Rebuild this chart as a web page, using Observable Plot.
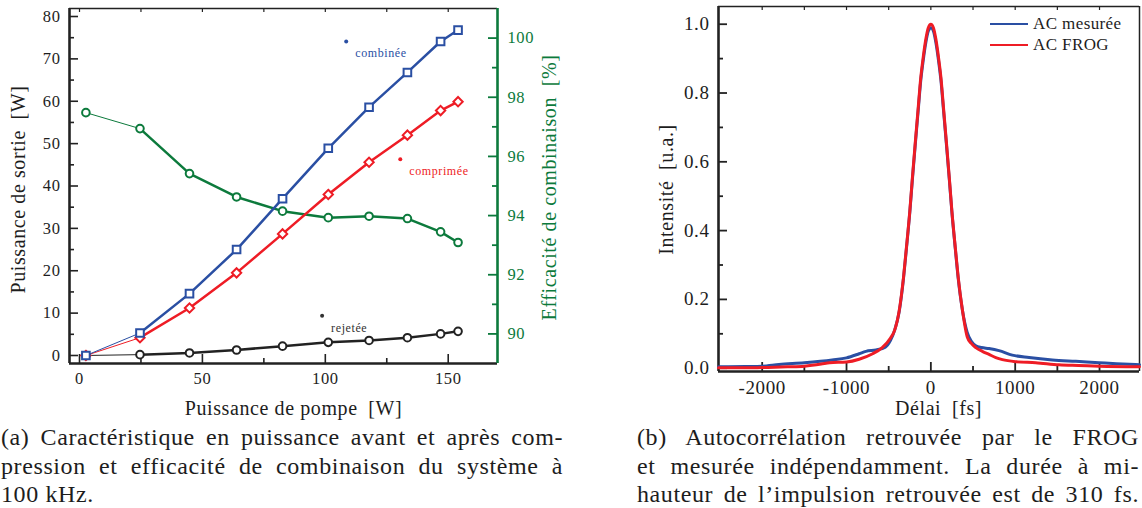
<!DOCTYPE html>
<html>
<head>
<meta charset="utf-8">
<script src="https://cdn.jsdelivr.net/npm/d3@7"></script>
<script src="https://cdn.jsdelivr.net/npm/@observablehq/plot@0.6"></script>
<style>
  body { margin: 0; background: #fff; }
  #root { position: relative; width: 1142px; height: 508px; overflow: hidden;
          font-family: "Liberation Serif", "DejaVu Serif", serif; color: #1d1d1d; }
  .plot { position: absolute; top: 0; }
  .plot svg text { font-family: "Liberation Serif", "DejaVu Serif", serif; }
  .cap { position: absolute; top: 423px; font-size: 24px; line-height: 28.5px; letter-spacing: 0.6px; }
  .cap .j { text-align: justify; text-align-last: justify; }
  .legend { position: absolute; left: 990px; top: 13px; font-size: 17px; letter-spacing: 0.4px; line-height: 21px; }
  .legend .row { display: flex; align-items: center; height: 21px; }
  .legend .sw { width: 38px; height: 2px; margin-right: 5px; }
</style>
</head>
<body>
<div id="root">
  <div id="left" class="plot" style="left:0"></div>
  <div id="right" class="plot" style="left:600px"></div>
  <div class="legend" id="legend"></div>
  <div class="cap" style="left:1px;width:562px">
    <div class="j">(a) Caractéristique en puissance avant et après com-</div>
    <div class="j">pression et efficacité de combinaison du système à</div>
    <div>100 kHz.</div>
  </div>
  <div class="cap" style="left:637px;width:502px">
    <div class="j">(b) Autocorrélation retrouvée par le FROG</div>
    <div class="j">et mesurée indépendamment. La durée à mi-</div>
    <div class="j">hauteur de l’impulsion retrouvée est de 310 fs.</div>
  </div>
</div>
<script>
// ---------- Panel (a) data ----------
const pump       = [2.6, 24.6, 44.75, 63.9, 82.6, 101.2, 117.8, 133.4, 146.9, 154.0];
const combinee   = [0, 5.3, 14.6, 25.0, 37.0, 48.9, 58.6, 66.8, 74.1, 76.8];
const comprimee  = [0, 4.2, 11.2, 19.5, 28.7, 38.0, 45.6, 52.0, 57.8, 59.9];
const rejetee    = [0, 0.2, 0.6, 1.3, 2.2, 3.1, 3.55, 4.2, 5.1, 5.7];
const efficacite = [97.48, 96.94, 95.42, 94.63, 94.15, 93.93, 93.98, 93.9, 93.45, 93.09];

const annotText  = ["combinée", "comprimée", "rejetée"];
const annotX     = [108.5, 130.5, 98.7];
const annotY     = [74.1, 46.3, 9.4];

const xTicksA    = [0, 50, 100, 150];
const xMinorA    = [25, 75, 125];
const yTicksA    = [0, 10, 20, 30, 40, 50, 60, 70, 80];
const yMinorA    = [5, 15, 25, 35, 45, 55, 65, 75];
const effTicks   = [90, 92, 94, 96, 98, 100];
const effMinor   = [91, 93, 95, 97, 99];

// ---------- Panel (b) data ----------
const delaiFrog = [-2518, -2200, -2000, -1700, -1500, -1300, -1200, -1000, -850, -690, -580, -480, -430, -375, -324, -290, -249, -220, -186, -150, -119, -90, -60, -30, 0,
                   30, 60, 90, 119, 150, 186, 220, 249, 290, 324, 375, 433, 480, 533, 610, 690, 770, 848, 1006, 1243, 1520, 1750, 2000, 2474];
const acFrog    = [0.001, 0.001, 0.002, 0.004, 0.006, 0.012, 0.016, 0.018, 0.026, 0.042, 0.059, 0.087, 0.11, 0.168, 0.265, 0.35, 0.458, 0.55, 0.652, 0.757, 0.846, 0.905, 0.956, 0.99, 1.0,
                   0.99, 0.956, 0.905, 0.846, 0.757, 0.652, 0.55, 0.458, 0.35, 0.265, 0.168, 0.09, 0.072, 0.060, 0.049, 0.040, 0.031, 0.025, 0.019, 0.016, 0.010, 0.008, 0.006, 0.004];
const delaiMes  = [-2518, -2200, -2000, -1800, -1500, -1170, -1000, -850, -770, -650, -540, -480, -430, -375, -324, -290, -249, -220, -186, -150, -119, -90, -60, -30, 0,
                   30, 60, 90, 119, 150, 186, 220, 249, 290, 324, 375, 430, 480, 533, 600, 690, 808, 966, 1164, 1441, 1718, 1994, 2200, 2474];
const acMes     = [0.004, 0.005, 0.006, 0.011, 0.016, 0.024, 0.030, 0.042, 0.049, 0.053, 0.061, 0.080, 0.11, 0.165, 0.262, 0.347, 0.455, 0.545, 0.646, 0.75, 0.838, 0.896, 0.946, 0.98, 0.99,
                   0.98, 0.946, 0.896, 0.838, 0.75, 0.646, 0.545, 0.455, 0.347, 0.262, 0.168, 0.105, 0.078, 0.065, 0.060, 0.057, 0.051, 0.038, 0.031, 0.024, 0.020, 0.016, 0.013, 0.010];

const xTicksB = [-2000, -1000, 0, 1000, 2000];
const xMinorB = [-1500, -500, 500, 1500];
const xTopB   = [-2000, -1500, -1000, -500, 0, 500, 1000, 1500, 2000];
const yTicksB = [0, 0.2, 0.4, 0.6, 0.8, 1.0];
const yMinorB = [0.1, 0.3, 0.5, 0.7, 0.9];

const legendLabels = ["AC mesurée", "AC FROG"];

// ---------- Colours ----------
const BLUE = "#2a4fa3", RED = "#ee1c25", GREEN = "#0c7a3c", BLACK = "#222222", INK = "#1d1d1d";
const FONT = "'Liberation Serif', 'DejaVu Serif', serif";

// ---------- Panel (a) ----------
const xDomA = [-4.07, 170.05], yDomA = [-1.89, 81.89], effDom = [89, 101];
const effToY = e => yDomA[0] + (e - effDom[0]) / (effDom[1] - effDom[0]) * (yDomA[1] - yDomA[0]);
const yToEff = y => effDom[0] + (y - yDomA[0]) / (yDomA[1] - yDomA[0]) * (effDom[1] - effDom[0]);

const rows = pump.map((p, i) => ({p, comb: combinee[i], comp: comprimee[i], rej: rejetee[i], eff: effToY(efficacite[i])}));
const annots = annotText.map((t, i) => ({t, x: annotX[i], y: annotY[i], c: [BLUE, RED, "#333"][i]}));

const WA = 600, HA = 420, mL = 69, mT = 8, mR = 103, mB = 57;
const fwA = WA - mL - mR, fhA = HA - mT - mB;

function series(key, color, symbol, r) {
  return [
    Plot.line(rows.slice(0, 2), {x: "p", y: key, stroke: color, strokeWidth: 1}),
    Plot.line(rows.slice(1), {x: "p", y: key, stroke: color, strokeWidth: 2.5}),
    Plot.dot(rows, {x: "p", y: key, stroke: color, fill: "white", strokeWidth: 2, symbol, r})
  ];
}

const plotA = Plot.plot({
  width: WA, height: HA, marginLeft: mL, marginTop: mT, marginRight: mR, marginBottom: mB,
  style: {fontFamily: FONT, color: INK, background: "transparent"},
  x: {domain: xDomA}, y: {domain: yDomA},
  marks: [
    Plot.ruleY(yTicksA, {y: d => d, insetRight: fwA - 9, strokeWidth: 1.6, stroke: BLACK}),
    Plot.ruleY(yMinorA, {y: d => d, insetRight: fwA - 5, strokeWidth: 1.6, stroke: BLACK}),
    Plot.ruleX(xTicksA, {x: d => d, insetTop: fhA - 9, strokeWidth: 1.6, stroke: BLACK}),
    Plot.ruleX(xMinorA, {x: d => d, insetTop: fhA - 5, strokeWidth: 1.6, stroke: BLACK}),
    Plot.ruleX(xTicksA.concat(xMinorA), {x: d => d, insetBottom: fhA - 4, strokeWidth: 1.2, stroke: BLACK}),
    Plot.ruleY(effTicks.map(effToY), {y: d => d, insetLeft: fwA - 9, strokeWidth: 1.8, stroke: GREEN}),
    Plot.ruleY(effMinor.map(effToY), {y: d => d, insetLeft: fwA - 5, strokeWidth: 1.8, stroke: GREEN}),
    Plot.ruleY([yDomA[1]], {strokeWidth: 1.5, stroke: BLACK}),
    Plot.ruleX([xDomA[0]], {strokeWidth: 2.6, stroke: BLACK}),
    Plot.ruleY([yDomA[0]], {strokeWidth: 2.6, stroke: BLACK}),
    Plot.ruleX([xDomA[1]], {strokeWidth: 2.6, stroke: GREEN}),
    Plot.axisY({ticks: yTicksA, tickSize: 0, tickPadding: 9, fontSize: 16.5, label: null}),
    Plot.axisX({ticks: xTicksA, tickSize: 0, tickPadding: 9, fontSize: 16.5, label: null}),
    Plot.axisY({anchor: "right", ticks: effTicks.map(effToY), tickFormat: d => String(Math.round(yToEff(d))),
                tickSize: 0, tickPadding: 10, fontSize: 16.5, label: null, fill: GREEN, color: GREEN}),
    ...series("eff", GREEN, "circle", 3.8),
    ...series("rej", BLACK, "circle", 3.8),
    ...series("comp", RED, "diamond2", 4.2),
    ...series("comb", BLUE, "square", 4.3),
    Plot.dot(annots, {x: "x", y: "y", fill: "c", r: 2}),
    Plot.text(annots, {x: "x", y: "y", text: "t", fill: "c", dx: 9, dy: 12, textAnchor: "start", fontSize: 12}),
    Plot.text(["Puissance de sortie\u2002[W]"], {frameAnchor: "left", textAnchor: "middle", lineAnchor: "middle", dx: -51, dy: 3.5, rotate: -90, fontSize: 20, fill: INK}),
    Plot.text(["Puissance de pompe\u2002[W]"], {frameAnchor: "bottom", textAnchor: "middle", lineAnchor: "middle", dx: 10, dy: 45, fontSize: 20, fill: INK}),
    Plot.text(["Efficacité de combinaison\u2002[%]"], {frameAnchor: "right", textAnchor: "middle", lineAnchor: "middle", dx: 52, dy: 1.5, rotate: -90, fontSize: 20, fill: GREEN})
  ]
});
plotA.querySelectorAll("text").forEach(t => { t.style.letterSpacing = "0.6px"; t.style.fontFamily = FONT; });
document.getElementById("left").appendChild(plotA);

// ---------- Panel (b) ----------
const xDomB = [-2518, 2474], yDomB = [-0.0096, 1.0515];
const WB = 542, HB = 420, bL = 118, bT = 6, bR = 3, bB = 49;
const fwB = WB - bL - bR, fhB = HB - bT - bB;
const frog = delaiFrog.map((d, i) => ({d, v: acFrog[i]}));
const mes = delaiMes.map((d, i) => ({d, v: acMes[i]}));

const plotB = Plot.plot({
  width: WB, height: HB, marginLeft: bL, marginTop: bT, marginRight: bR, marginBottom: bB,
  style: {fontFamily: FONT, color: INK, background: "transparent"},
  x: {domain: xDomB}, y: {domain: yDomB},
  marks: [
    Plot.ruleY(yTicksB, {y: d => d, insetRight: fwB - 9, strokeWidth: 1.8, stroke: BLACK}),
    Plot.ruleY(yMinorB, {y: d => d, insetRight: fwB - 5, strokeWidth: 1.8, stroke: BLACK}),
    Plot.ruleX(xTicksB, {x: d => d, insetTop: fhB - 9, strokeWidth: 1.8, stroke: BLACK}),
    Plot.ruleX(xMinorB, {x: d => d, insetTop: fhB - 5, strokeWidth: 1.8, stroke: BLACK}),
    Plot.ruleX(xTopB, {x: d => d, insetBottom: fhB - 4, strokeWidth: 1.2, stroke: BLACK}),
    Plot.ruleY([yDomB[1]], {strokeWidth: 1.5, stroke: BLACK}),
    Plot.ruleX([xDomB[1]], {strokeWidth: 1.5, stroke: BLACK}),
    Plot.ruleX([xDomB[0]], {strokeWidth: 2.6, stroke: BLACK}),
    Plot.ruleY([yDomB[0]], {strokeWidth: 2.6, stroke: BLACK}),
    Plot.axisY({ticks: yTicksB, tickSize: 0, tickPadding: 9, fontSize: 19, tickFormat: d => d.toFixed(1), label: null}),
    Plot.axisX({ticks: xTicksB, tickSize: 0, tickPadding: 9, fontSize: 19, tickFormat: d => String(d), label: null}),
    Plot.line(mes, {x: "d", y: "v", stroke: BLUE, strokeWidth: 3, curve: "monotone-x"}),
    Plot.line(frog, {x: "d", y: "v", stroke: RED, strokeWidth: 3, curve: "monotone-x"}),
    Plot.text(["Intensité\u2002[u.a.]"], {frameAnchor: "left", textAnchor: "middle", lineAnchor: "middle", dx: -52, dy: 0.5, rotate: -90, fontSize: 20, fill: INK}),
    Plot.text(["Délai\u2002[fs]"], {frameAnchor: "bottom", textAnchor: "middle", lineAnchor: "middle", dx: 9.5, dy: 37, fontSize: 20, fill: INK})
  ]
});
plotB.querySelectorAll("text").forEach(t => { t.style.letterSpacing = "0.6px"; t.style.fontFamily = FONT; });
document.getElementById("right").appendChild(plotB);

// ---------- Legend ----------
const lg = document.getElementById("legend");
legendLabels.forEach((lab, i) => {
  const row = document.createElement("div"); row.className = "row";
  const sw = document.createElement("div"); sw.className = "sw"; sw.style.background = [BLUE, RED][i];
  const tx = document.createElement("span"); tx.textContent = lab;
  row.appendChild(sw); row.appendChild(tx); lg.appendChild(row);
});
</script>
</body>
</html>
